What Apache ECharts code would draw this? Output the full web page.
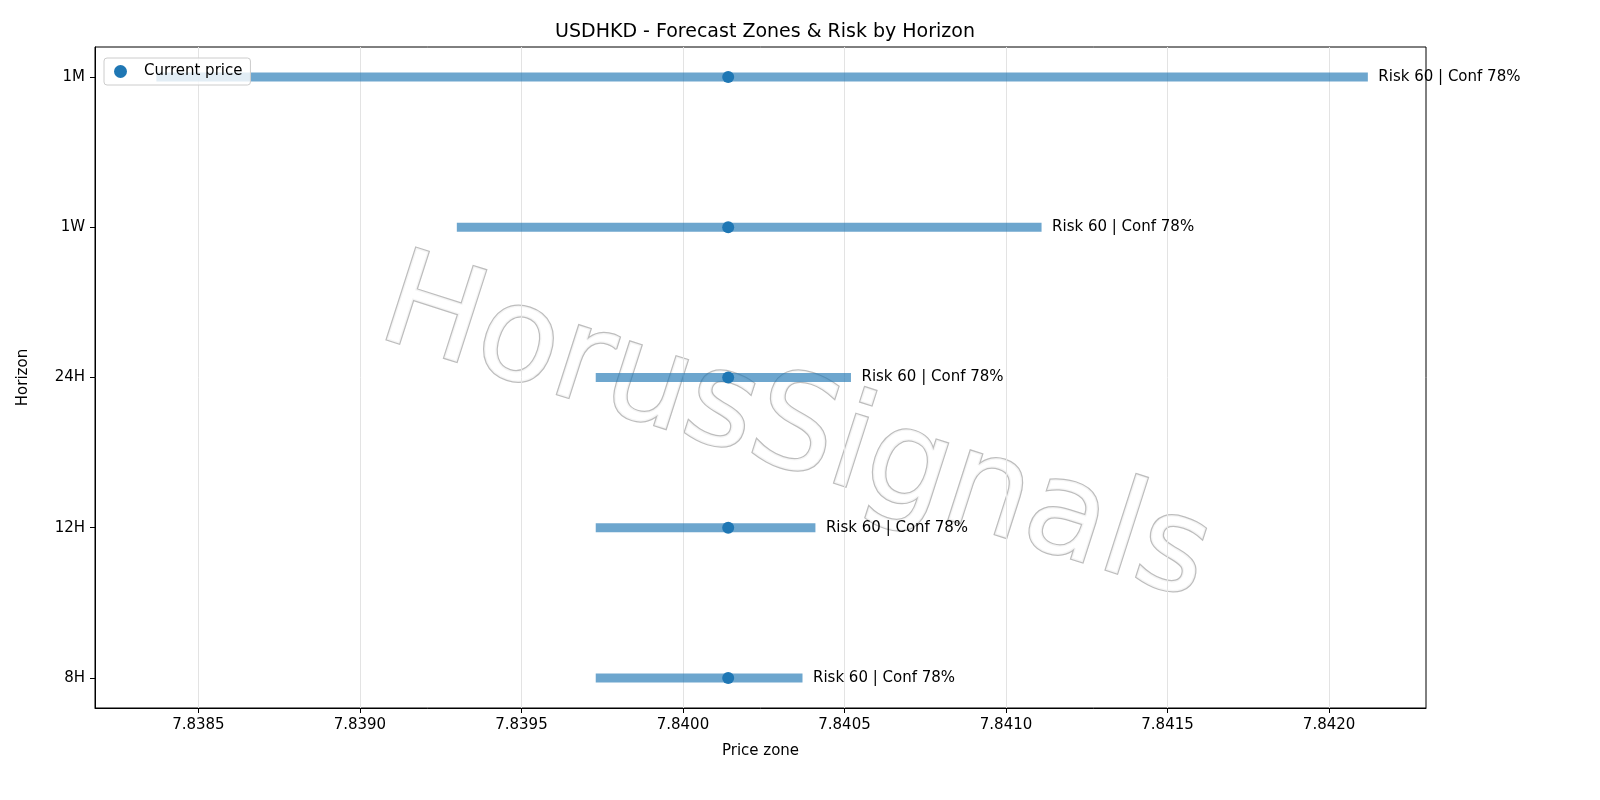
<!DOCTYPE html>
<html><head><meta charset="utf-8">
<script src="https://cdn.jsdelivr.net/npm/echarts@6/dist/echarts.min.js"></script>
<style>html,body{margin:0;padding:0;background:#fff}#c{width:1600px;height:800px}</style>
</head><body><div id="c"></div>
<script>
var horizons = ['8H', '12H', '24H', '1W', '1M'];
var zoneLow = [7.83973, 7.83973, 7.83973, 7.83930, 7.83837];
var zoneHigh = [7.84037, 7.84041, 7.84052, 7.84111, 7.84212];
var currentPrice = 7.84014;
var riskLabels = ['Risk 60 | Conf 78%', 'Risk 60 | Conf 78%', 'Risk 60 | Conf 78%', 'Risk 60 | Conf 78%', 'Risk 60 | Conf 78%'];
var xTicks = [7.8385, 7.839, 7.8395, 7.84, 7.8405, 7.841, 7.8415, 7.842];

var chart = echarts.init(document.getElementById('c'));
var font = 'DejaVu Sans';

var zoneData = horizons.map(function (h, i) { return [zoneLow[i], zoneHigh[i], i]; });
var pointData = horizons.map(function (h, i) { return [currentPrice, i]; });

var option = {
  backgroundColor: '#ffffff',
  animation: false,
  textStyle: { fontFamily: font },
  title: {
    text: 'USDHKD - Forecast Zones & Risk by Horizon',
    left: 760, top: 18, textAlign: 'center',
    textStyle: { fontFamily: font, fontSize: 19, fontWeight: 'normal', color: '#000' }
  },
  legend: {
    left: 104, top: 58, orient: 'vertical',
    data: [{ name: 'Current price', icon: 'circle' }],
    itemWidth: 13, itemHeight: 13,
    backgroundColor: 'rgba(255,255,255,0.8)', borderColor: '#ccc', borderWidth: 1, borderRadius: 3,
    padding: [6, 8, 6, 10],
    textStyle: { fontFamily: font, fontSize: 15, color: '#000', padding: [0, 0, 0, 12] }
  },
  grid: { left: 95, right: 174, top: 47, bottom: 92, show: true, borderColor: '#000', borderWidth: 1 },
  xAxis: {
    type: 'value', min: 7.83818, max: 7.84230,
    name: 'Price zone', nameLocation: 'middle', nameGap: 36,
    nameTextStyle: { fontFamily: font, fontSize: 15, color: '#000' },
    axisLine: { show: true, onZero: false, lineStyle: { color: '#000' } },
    axisTick: { show: true, length: 5, lineStyle: { color: '#000' }, customValues: xTicks },
    axisLabel: { fontFamily: font, fontSize: 15, color: '#000', margin: 10, customValues: xTicks,
      formatter: function (v) { return v.toFixed(4); } },
    splitLine: { show: true, lineStyle: { color: '#e3e3e3' } }
  },
  yAxis: {
    type: 'value', min: -0.2, max: 4.2,
    name: 'Horizon', nameLocation: 'middle', nameGap: 64, nameRotate: 90,
    nameTextStyle: { fontFamily: font, fontSize: 15, color: '#000' },
    axisLine: { show: true, onZero: false, lineStyle: { color: '#000' } },
    axisTick: { show: true, length: 5, lineStyle: { color: '#000' }, customValues: [0, 1, 2, 3, 4] },
    axisLabel: { fontFamily: font, fontSize: 15, color: '#000', margin: 10, customValues: [0, 1, 2, 3, 4],
      formatter: function (v) { return horizons[v]; } },
    splitLine: { show: false }
  },
  graphic: [{
    type: 'text', rotation: -0.31, z: 0, x: 405, y: 240,
    style: { text: 'HorusSignals', fontFamily: font, fontSize: 132, fill: 'rgba(255,255,255,0.85)',
      stroke: '#bdbdbd', lineWidth: 2.5, shadowColor: 'rgba(0,0,0,0.3)', shadowOffsetX: 5, shadowOffsetY: 5, shadowBlur: 1 }
  }],
  series: [{
    type: 'custom', name: 'zones', z: 3,
    data: zoneData,
    renderItem: function (params, api) {
      var a = api.coord([api.value(0), api.value(2)]);
      var b = api.coord([api.value(1), api.value(2)]);
      return {
        type: 'line',
        shape: { x1: a[0], y1: a[1], x2: b[0], y2: b[1] },
        style: { stroke: 'rgba(31,119,180,0.65)', lineWidth: 9 },
        textContent: { style: { text: riskLabels[params.dataIndex], fontFamily: font, fontSize: 15, fill: '#000' } },
        textConfig: { position: 'right', distance: 6 }
      };
    }
  }, {
    type: 'scatter', name: 'Current price', z: 4,
    data: pointData, symbolSize: 12,
    itemStyle: { color: '#1f77b4', opacity: 1 }
  }]
};
chart.setOption(option);
</script></body></html>
